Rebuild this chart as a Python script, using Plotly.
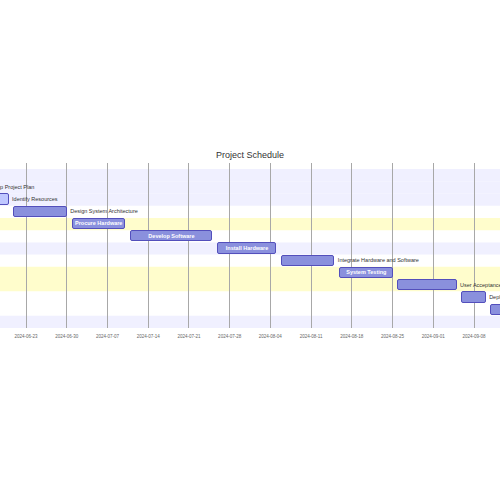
import plotly.graph_objects as go
import pandas as pd

# ---- data ----
tasks = [
    "Gather Requirements", "Develop Project Plan", "Identify Resources",
    "Design System Architecture", "Procure Hardware", "Develop Software",
    "Install Hardware", "Integrate Hardware and Software", "System Testing",
    "User Acceptance Testing", "Deployment", "Post-Deployment Support",
    "Project Closure",
]
starts = [
    "2024-06-01", "2024-06-09", "2024-06-16", "2024-06-21", "2024-07-01",
    "2024-07-11", "2024-07-26", "2024-08-06", "2024-08-16", "2024-08-26",
    "2024-09-06", "2024-09-11", "2024-09-21",
]
ends = [
    "2024-06-08", "2024-06-15", "2024-06-20", "2024-06-30", "2024-07-10",
    "2024-07-25", "2024-08-05", "2024-08-15", "2024-08-25", "2024-09-05",
    "2024-09-10", "2024-09-20", "2024-09-25",
]
active = [False, False, True] + [False] * 10
label_inside = [False, False, False, False, True, True, True, False, True,
                False, False, False, False]
# section index of each task (sections cycle through 4 background styles)
section_of_task = [0, 0, 0, 1, 2, 3, 4, 5, 6, 6, 7, 7, 8]
tick_start = "2024-06-23"
view_range = ["2024-06-18 12:45", "2024-09-12 11:15"]

# ---- styles ----
section_colors = ["rgb(240,240,255)", "rgba(255,255,255,0)", "rgb(255,253,204)",
                  "rgba(255,255,255,0)"]
bar_fill = "#8a90dd"
bar_fill_active = "#bfc7ff"
bar_border = "#534fbc"
FONT = "Liberation Sans"

s = pd.to_datetime(pd.Series(starts))
e = pd.to_datetime(pd.Series(ends))
dur_ms = ((e - s).dt.total_seconds() * 1000).tolist()
mid = (s + (e - s) / 2).dt.strftime("%Y-%m-%d %H:%M:%S").tolist()
rows = list(range(len(tasks)))

fig = go.Figure()

# section background bands
for r, sec in zip(rows, section_of_task):
    fig.add_shape(type="rect", xref="paper", x0=0, x1=1, yref="y",
                  y0=r - 0.5, y1=r + 0.5, fillcolor=section_colors[sec % 4],
                  line_width=0, layer="below")

fig.add_trace(go.Bar(
    y=rows, x=dur_ms, base=starts, orientation="h", width=0.84,
    marker=dict(color=[bar_fill_active if a else bar_fill for a in active],
                line=dict(color=bar_border, width=1), cornerradius=2),
    hoverinfo="skip", showlegend=False,
))

# labels inside bars
in_idx = [i for i in rows if label_inside[i]]
fig.add_trace(go.Scatter(
    x=[mid[i] for i in in_idx], y=in_idx, text=[tasks[i] for i in in_idx],
    mode="text", textposition="middle center",
    textfont=dict(family=FONT, size=5.5, color="white", weight="bold"),
    hoverinfo="skip", showlegend=False, cliponaxis=True,
))
# labels outside bars (right of bar)
out_idx = [i for i in rows if not label_inside[i]]
fig.add_trace(go.Scatter(
    x=[ends[i] for i in out_idx], y=out_idx, text=[tasks[i] for i in out_idx],
    mode="markers+text", textposition="middle right",
    marker=dict(size=4, opacity=0),
    textfont=dict(family=FONT, size=5.5, color="#333333"),
    hoverinfo="skip", showlegend=False, cliponaxis=True,
))

fig.update_layout(
    width=500, height=500,
    margin=dict(l=0, r=0, t=163, b=172),
    paper_bgcolor="white", plot_bgcolor="white",
    title=dict(text="Project Schedule", x=0.5, xanchor="center",
               y=1 - 155 / 500, yanchor="middle", yref="container",
               font=dict(family=FONT, size=9, color="#333333")),
    xaxis=dict(type="date", range=view_range, tick0=tick_start,
               dtick=7 * 24 * 3600 * 1000, tickformat="%Y-%m-%d",
               showgrid=True, gridcolor="#a8a8a8", gridwidth=1,
               zeroline=False, showline=False, ticks="",
               ticklabelstandoff=4,
               tickfont=dict(family=FONT, size=4.5, color="#666666")),
    yaxis=dict(range=[12.5, -0.99], visible=False, showgrid=False,
               zeroline=False),
    bargap=0,
)

fig.write_html(
    "out.html",
    config={"displayModeBar": False},
    post_script="document.body.style.margin='0';document.body.style.overflow='hidden';",
)
